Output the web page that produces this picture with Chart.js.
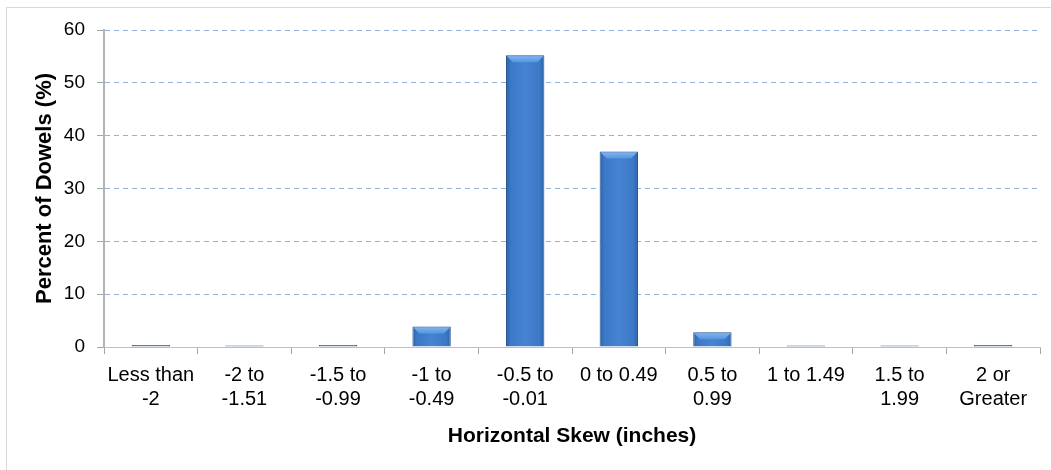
<!DOCTYPE html>
<html>
<head>
<meta charset="utf-8">
<script src="https://cdn.jsdelivr.net/npm/chart.js@4/dist/chart.umd.min.js"></script>
<style>
  html, body { margin: 0; padding: 0; background: #fff; }
  #wrap { position: relative; width: 1051px; height: 470px; }
  #frame { position: absolute; left: 6px; top: 7px; width: 1060px; height: 480px;
           border-left: 1px solid #d9d9d9; border-top: 1px solid #d9d9d9; pointer-events: none; }
  canvas { position: absolute; left: 0; top: 0; }
</style>
</head>
<body>
<div id="wrap">
  <canvas id="c" width="1051" height="470"></canvas>
  <div id="frame"></div>
</div>
<script>
const categories = [
  ["Less than", "-2"], ["-2 to", "-1.51"], ["-1.5 to", "-0.99"], ["-1 to", "-0.49"],
  ["-0.5 to", "-0.01"], ["0 to 0.49"], ["0.5 to", "0.99"], ["1 to 1.49"],
  ["1.5 to", "1.99"], ["2 or", "Greater"]
];
const percentOfDowels = [0.4, 0.3, 0.4, 3.9, 55.2, 37.0, 2.8, 0.3, 0.3, 0.4];
const yTicks = [0, 10, 20, 30, 40, 50, 60];
const yAxisTitle = "Percent of Dowels (%)";
const xAxisTitle = "Horizontal Skew (inches)";

const FONT = "'Liberation Sans', Arial, sans-serif";

function barFill(ctx) {
  const chart = ctx.chart;
  if (ctx.raw !== undefined && ctx.raw < 1) return '#5a80b6';
  if (!chart.chartArea || !chart.scales.x) return '#3e7bc9';
  const xs = chart.scales.x;
  const cx = xs.getPixelForValue(ctx.dataIndex);
  const half = xs.width / categories.length * 0.41 / 2;
  const g = chart.ctx.createLinearGradient(cx - half, 0, cx + half, 0);
  g.addColorStop(0, '#2d62a8');
  g.addColorStop(0.12, '#3b78c6');
  g.addColorStop(0.5, '#4683d2');
  g.addColorStop(0.88, '#3b78c6');
  g.addColorStop(1, '#2d62a8');
  return g;
}

// subtle bevel highlight at the top of each bar, using the bar elements' own geometry
const bevelPlugin = {
  id: 'bevel',
  afterDatasetsDraw(chart) {
    const meta = chart.getDatasetMeta(0);
    const ctx = chart.ctx;
    meta.data.forEach((bar) => {
      const { x, y, base, width } = bar.getProps(['x', 'y', 'base', 'width'], true);
      const h = base - y;
      if (h < 8) return;
      const l = x - width / 2 + 1, r = x + width / 2 - 1, t = y + 1, b = 6;
      ctx.save();
      ctx.beginPath();
      ctx.moveTo(l, t);
      ctx.lineTo(r, t);
      ctx.lineTo(r - b, t + b);
      ctx.lineTo(l + b, t + b);
      ctx.closePath();
      const g = ctx.createLinearGradient(0, t, 0, t + b);
      g.addColorStop(0, '#7fb3ee');
      g.addColorStop(1, '#5595e0');
      ctx.fillStyle = g;
      ctx.fill();
      ctx.restore();
    });
  }
};

new Chart(document.getElementById('c'), {
  type: 'bar',
  data: {
    labels: categories,
    datasets: [{
      data: percentOfDowels,
      backgroundColor: barFill,
      borderColor: '#2a5690',
      borderWidth: 1,
      barPercentage: 0.41,
      categoryPercentage: 1.0
    }]
  },
  plugins: [bevelPlugin],
  options: {
    responsive: false,
    animation: false,
    devicePixelRatio: 1,
    layout: { padding: { left: 32, right: 11, top: 30, bottom: 21 } },
    plugins: { legend: { display: false }, tooltip: { enabled: false } },
    scales: {
      x: {
        offset: true,
        grid: {
          display: true, drawOnChartArea: false, drawTicks: true,
          tickLength: 7, color: '#a6a6a6', tickColor: '#a6a6a6', offset: true
        },
        border: { display: true, color: '#bfbfbf', width: 1 },
        ticks: {
          color: '#000', padding: 9, maxRotation: 0, autoSkip: false,
          font: { family: FONT, size: 20, lineHeight: 1.2 }
        },
        title: {
          display: true, text: xAxisTitle, color: '#000',
          padding: { top: 0, bottom: 0 },
          font: { family: FONT, size: 21, weight: 'bold', lineHeight: 1.2 }
        },
        afterFit: (s) => { s.height = 470 - 21 - 347; }
      },
      y: {
        min: 0, max: 60,
        afterBuildTicks: (s) => { s.ticks = yTicks.map(v => ({ value: v })); },
        grid: {
          drawTicks: true, tickLength: 7,
          color: (c) => (c.tick && c.tick.value === 0) ? 'rgba(0,0,0,0)' : '#8fb2dd',
          tickColor: '#a6a6a6', lineWidth: 1
        },
        border: { display: true, color: '#b3b3b3', width: 2, dash: [5, 4] },
        ticks: {
          color: '#000', padding: 12,
          font: { family: FONT, size: 19 }
        },
        title: {
          display: true, text: yAxisTitle, color: '#000',
          padding: { top: 0, bottom: 0 },
          font: { family: FONT, size: 22, weight: 'bold', lineHeight: 1.2 }
        },
        afterFit: (s) => { s.width = 104 - 32; }
      }
    }
  }
});
</script>
</body>
</html>
